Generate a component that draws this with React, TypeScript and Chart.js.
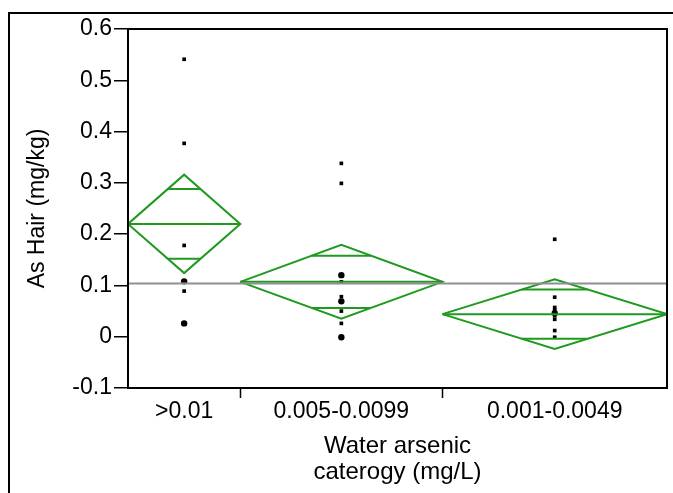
import { useEffect, useRef } from "react";
import { Chart, registerables } from "chart.js";

Chart.register(...registerables);

// ---- data ----
const categories = [">0.01", "0.005-0.0099", "0.001-0.0049"];
const groupSizes = [10, 18, 20]; // diamond widths are proportional to group size
const groupMeans = [0.22, 0.107, 0.044];
const groupCI = [0.096, 0.072, 0.068]; // half-width of the 95% CI (diamond height)
const grandMean = 0.104;
const squarePoints = [
  [0.541, 0.377, 0.178, 0.089],
  [0.338, 0.299, 0.107, 0.078, 0.05, 0.026],
  [0.19, 0.077, 0.057, 0.052, 0.041, 0.034, 0.012, -0.001],
];
const circlePoints = [
  [0.108, 0.026],
  [0.12, 0.069, -0.001],
  [0.046],
];
const yMin = -0.1;
const yMax = 0.6;
const yStep = 0.1;

const GREEN = "#1f9a1f";
const FONT = "'Liberation Sans', Arial, sans-serif";

export default function App() {
  const ref = useRef<HTMLCanvasElement | null>(null);

  useEffect(() => {
    if (!ref.current) return;
    const total = groupSizes.reduce((a, b) => a + b, 0);
    const bounds: number[] = [0];
    groupSizes.forEach((n, i) => bounds.push(bounds[i] + n));
    const centers = groupSizes.map((n, i) => bounds[i] + n / 2);

    const datasets: any[] = [];
    // grand mean line
    datasets.push({
      type: "line",
      data: [
        { x: 0, y: grandMean },
        { x: total, y: grandMean },
      ],
      borderColor: "#8f8f8f",
      borderWidth: 2,
      pointRadius: 0,
      showLine: true,
    });
    groupMeans.forEach((m, i) => {
      const l = bounds[i];
      const r = bounds[i + 1];
      const c = centers[i];
      const ci = groupCI[i];
      const common = {
        type: "line",
        borderColor: GREEN,
        borderWidth: 2,
        pointRadius: 0,
        showLine: true,
        tension: 0,
      };
      datasets.push({
        ...common,
        data: [
          { x: l, y: m },
          { x: c, y: m + ci },
          { x: r, y: m },
          { x: c, y: m - ci },
          { x: l, y: m },
        ],
      });
      datasets.push({ ...common, data: [{ x: l, y: m }, { x: r, y: m }] });
      const off = ci / Math.SQRT2;
      const half = ((r - l) / 2) * (1 - 1 / Math.SQRT2);
      datasets.push({ ...common, data: [{ x: c - half, y: m + off }, { x: c + half, y: m + off }] });
      datasets.push({ ...common, data: [{ x: c - half, y: m - off }, { x: c + half, y: m - off }] });
    });
    datasets.push({
      type: "scatter",
      data: squarePoints.flatMap((arr, i) => arr.map((y) => ({ x: centers[i], y }))),
      pointStyle: "rect",
      pointRadius: 2.6,
      borderWidth: 0,
      backgroundColor: "#000",
    });
    datasets.push({
      type: "scatter",
      data: circlePoints.flatMap((arr, i) => arr.map((y) => ({ x: centers[i], y }))),
      pointStyle: "circle",
      pointRadius: 3.2,
      borderWidth: 0,
      backgroundColor: "#000",
    });

    const framePlugin = {
      id: "frames",
      afterDraw(chart: any) {
        const { ctx, chartArea } = chart;
        ctx.save();
        ctx.strokeStyle = "#000";
        ctx.lineWidth = 2;
        ctx.beginPath();
        ctx.moveTo(9, 493);
        ctx.lineTo(9, 13);
        ctx.lineTo(673, 13);
        ctx.stroke();
        ctx.strokeRect(chartArea.left, chartArea.top, chartArea.right - chartArea.left, chartArea.bottom - chartArea.top);
        // separator ticks between categories
        const xs = chart.scales.x;
        ctx.lineWidth = 1.5;
        ctx.beginPath();
        bounds.slice(1, -1).forEach((b) => {
          const px = Math.round(xs.getPixelForValue(b)) + 0.5;
          ctx.moveTo(px, chartArea.bottom);
          ctx.lineTo(px, chartArea.bottom + 10);
        });
        ctx.stroke();
        ctx.restore();
      },
    };

    const chart = new Chart(ref.current, {
      type: "scatter",
      data: { datasets },
      plugins: [framePlugin],
      options: {
        animation: false,
        responsive: false,
        layout: { padding: { top: 29, right: 6, left: 0, bottom: 0 } },
        plugins: { legend: { display: false }, tooltip: { enabled: false } },
        scales: {
          x: {
            type: "linear",
            min: 0,
            max: total,
            afterBuildTicks: (s: any) => {
              s.ticks = centers.map((v) => ({ value: v }));
            },
            afterFit: (s: any) => {
              s.height = 105;
            },
            ticks: {
              autoSkip: false,
              maxRotation: 0,
              callback: (_v: any, i: number) => categories[i],
              color: "#000",
              font: { family: FONT, size: 23 },
              padding: 2,
            },
            grid: { display: false },
            border: { display: true, color: "#000", width: 2 },
            title: {
              display: true,
              text: ["Water arsenic", "caterogy (mg/L)"],
              color: "#000",
              font: { family: FONT, size: 24, lineHeight: 1.06 },
              padding: { top: 0, bottom: 8 },
            },
          },
          y: {
            type: "linear",
            min: yMin,
            max: yMax,
            afterFit: (s: any) => {
              s.width = 128;
            },
            ticks: {
              stepSize: yStep,
              callback: (v: any) => {
                const n = Math.round(Number(v) * 10) / 10;
                return n === 0 ? "0" : String(n);
              },
              color: "#000",
              font: { family: FONT, size: 23 },
              padding: 2,
            },
            grid: { drawOnChartArea: false, drawTicks: true, tickLength: 14, color: "#000", lineWidth: 1.5 },
            border: { display: true, color: "#000", width: 2 },
            title: {
              display: true,
              text: "As Hair (mg/kg)",
              color: "#000",
              font: { family: FONT, size: 23, lineHeight: 1.2 },
              padding: { top: 24, bottom: 0 },
            },
          },
        },
      },
    } as any);
    return () => chart.destroy();
  }, []);

  return (
    <div style={{ position: "fixed", left: 0, top: 0, width: 673, height: 493, background: "#fff" }}>
      <canvas ref={ref} width={673} height={493} style={{ display: "block", width: 673, height: 493 }} />
    </div>
  );
}
